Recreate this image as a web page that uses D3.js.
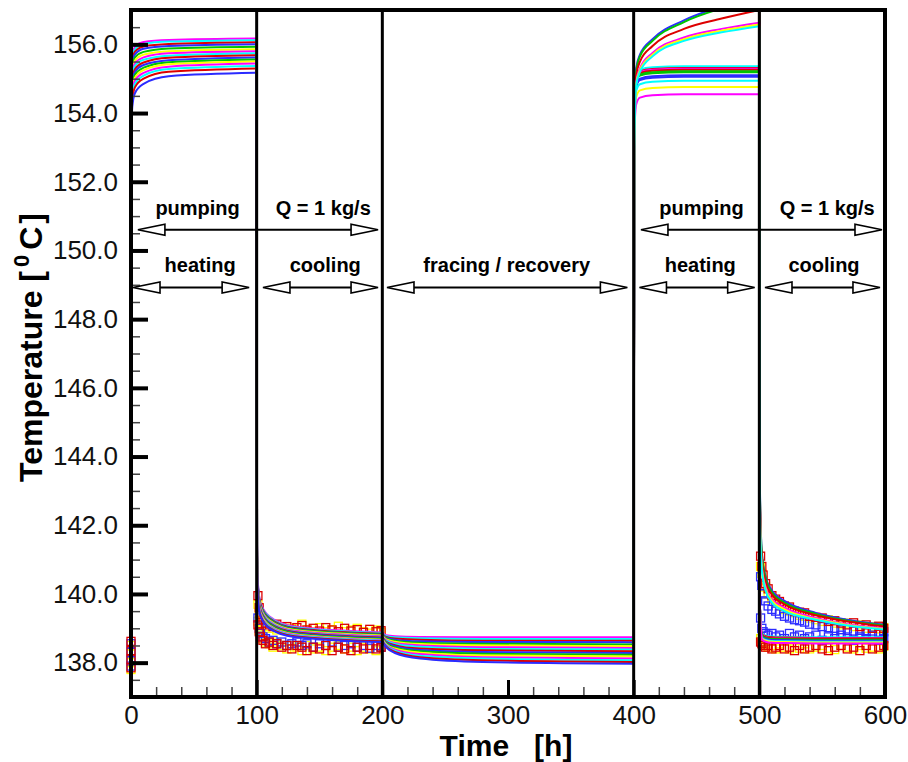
<!DOCTYPE html>
<html>
<head>
<meta charset="utf-8">
<script src="https://cdn.jsdelivr.net/npm/d3@7"></script>
<style>
body { margin: 0; background: #fff; }
svg { display: block; font-family: "Liberation Sans", Arial, sans-serif; }
</style>
</head>
<body>
<script>
// ---- data (temperatures in degC, times in hours) ----

// phase boundaries
var phaseEdges = [100, 200, 400, 500];

// heating 1 (0-100 h): 16 model curves, time offsets from 0
var heat1T = [0, 0.3, 1, 3, 10, 30, 100];
var heat1 = [
  [138.5, 154.67, 155.62, 155.92, 156.07, 156.13, 156.17],
  [138.5, 154.56, 155.54, 155.85, 156.01, 156.08, 156.12],
  [138.5, 154.44, 155.45, 155.78, 155.94, 156.01, 156.06],
  [138.5, 154.32, 155.36, 155.70, 155.87, 155.95, 156.00],
  [138.5, 154.19, 155.26, 155.61, 155.78, 155.88, 155.93],
  [138.5, 154.06, 155.16, 155.52, 155.70, 155.80, 155.86],
  [138.5, 153.94, 155.08, 155.44, 155.62, 155.74, 155.80],
  [138.5, 153.82, 154.99, 155.36, 155.55, 155.67, 155.74],
  [138.5, 153.70, 154.90, 155.27, 155.47, 155.61, 155.68],
  [138.5, 153.58, 154.82, 155.19, 155.40, 155.54, 155.62],
  [138.5, 153.46, 154.73, 155.11, 155.32, 155.48, 155.56],
  [138.5, 153.34, 154.64, 155.02, 155.25, 155.42, 155.50],
  [138.5, 153.22, 154.56, 154.94, 155.17, 155.35, 155.44],
  [138.5, 153.09, 154.45, 154.84, 155.09, 155.28, 155.37],
  [138.5, 152.96, 154.35, 154.74, 155.00, 155.20, 155.30],
  [138.5, 152.77, 154.17, 154.57, 154.85, 155.07, 155.17]
];

// cooling 1 (100-200 h)
var cool1T = [0, 0.3, 1, 3, 10, 30, 100];
var cool1 = [
  [156.17, 141.50, 140.30, 139.75, 139.35, 139.05, 138.88],
  [156.12, 141.45, 140.27, 139.72, 139.33, 139.03, 138.86],
  [156.06, 141.41, 140.23, 139.70, 139.30, 139.01, 138.84],
  [156.00, 141.36, 140.20, 139.67, 139.28, 138.99, 138.82],
  [155.93, 141.31, 140.17, 139.64, 139.26, 138.97, 138.81],
  [155.86, 141.27, 140.13, 139.62, 139.23, 138.95, 138.79],
  [155.80, 141.22, 140.10, 139.59, 139.21, 138.93, 138.77],
  [155.74, 141.17, 140.07, 139.56, 139.19, 138.91, 138.75],
  [155.68, 141.13, 140.03, 139.54, 139.16, 138.89, 138.73],
  [155.62, 141.08, 140.00, 139.51, 139.14, 138.87, 138.71],
  [155.56, 141.03, 139.97, 139.48, 139.12, 138.85, 138.69],
  [155.50, 140.99, 139.93, 139.46, 139.09, 138.83, 138.67],
  [155.44, 140.94, 139.90, 139.43, 139.07, 138.81, 138.65],
  [155.37, 140.89, 139.87, 139.40, 139.05, 138.79, 138.64],
  [155.30, 140.85, 139.83, 139.38, 139.02, 138.77, 138.62],
  [155.17, 140.80, 139.80, 139.35, 139.00, 138.75, 138.60]
];

// fracing / recovery (200-400 h)
var fracT = [0, 1, 3, 10, 30, 80, 200];
var frac = [
  [138.88, 138.84, 138.80, 138.77, 138.75, 138.74, 138.74],
  [138.86, 138.82, 138.78, 138.74, 138.71, 138.69, 138.69],
  [138.84, 138.80, 138.75, 138.70, 138.67, 138.64, 138.64],
  [138.82, 138.78, 138.73, 138.67, 138.62, 138.60, 138.59],
  [138.81, 138.76, 138.71, 138.64, 138.58, 138.55, 138.53],
  [138.79, 138.74, 138.68, 138.61, 138.54, 138.50, 138.48],
  [138.77, 138.72, 138.66, 138.57, 138.50, 138.45, 138.43],
  [138.75, 138.70, 138.64, 138.54, 138.46, 138.40, 138.38],
  [138.73, 138.69, 138.61, 138.51, 138.41, 138.36, 138.33],
  [138.71, 138.67, 138.59, 138.48, 138.37, 138.31, 138.28],
  [138.69, 138.65, 138.57, 138.44, 138.33, 138.26, 138.23],
  [138.67, 138.63, 138.54, 138.41, 138.29, 138.21, 138.18],
  [138.65, 138.61, 138.52, 138.38, 138.25, 138.16, 138.12],
  [138.64, 138.59, 138.50, 138.35, 138.20, 138.12, 138.07],
  [138.62, 138.57, 138.47, 138.31, 138.16, 138.07, 138.02],
  [138.60, 138.55, 138.45, 138.28, 138.12, 138.02, 137.97]
];

// heating 2 (400-500 h): a slowly rising group and a flat group
var heat2T = [0, 0.5, 2, 5, 15, 40, 70, 100];
var heat2Up = [
  [138.4, 153.5, 155.30, 155.70, 156.15, 156.70, 157.10, 157.40],
  [138.4, 153.4, 155.20, 155.65, 156.10, 156.65, 157.05, 157.35],
  [138.4, 153.2, 155.10, 155.50, 155.95, 156.45, 156.75, 157.00],
  [138.4, 153.0, 154.90, 155.30, 155.75, 156.20, 156.45, 156.63],
  [138.4, 153.0, 154.85, 155.25, 155.70, 156.15, 156.40, 156.58],
  [138.4, 152.9, 154.80, 155.20, 155.65, 156.10, 156.35, 156.53]
];
var heat2Low = [
  [138.4, 154.16, 155.06, 155.26, 155.33, 155.36, 155.36, 155.36],
  [138.4, 154.11, 155.01, 155.21, 155.28, 155.31, 155.31, 155.31],
  [138.4, 154.09, 154.99, 155.19, 155.26, 155.29, 155.29, 155.29],
  [138.4, 154.06, 154.96, 155.16, 155.23, 155.26, 155.26, 155.26],
  [138.4, 154.02, 154.92, 155.12, 155.19, 155.22, 155.22, 155.22],
  [138.4, 153.99, 154.89, 155.09, 155.16, 155.19, 155.19, 155.19],
  [138.4, 153.90, 154.80, 155.00, 155.07, 155.10, 155.10, 155.10],
  [138.4, 153.86, 154.76, 154.96, 155.03, 155.06, 155.06, 155.06],
  [138.4, 153.74, 154.64, 154.84, 154.91, 154.94, 154.94, 154.94],
  [138.4, 153.56, 154.46, 154.66, 154.73, 154.76, 154.76, 154.76],
  [138.4, 153.35, 154.25, 154.45, 154.52, 154.55, 154.55, 154.55]
];

// cooling 2 (500-600 h)
var cool2T = [0, 0.5, 2, 5, 10, 20, 45, 70, 100];
var cool2Up = [
  [157.40, 143.0, 141.20, 140.50, 140.10, 139.80, 139.45, 139.25, 139.10],
  [157.35, 142.9, 141.15, 140.45, 140.05, 139.75, 139.42, 139.22, 139.08],
  [157.00, 142.8, 141.00, 140.35, 139.98, 139.70, 139.38, 139.20, 139.05],
  [156.63, 142.5, 140.80, 140.20, 139.85, 139.60, 139.30, 139.12, 139.00],
  [156.58, 142.4, 140.75, 140.15, 139.80, 139.55, 139.27, 139.10, 138.98],
  [156.53, 142.3, 140.70, 140.10, 139.75, 139.50, 139.25, 139.08, 138.96]
];
var cool2Low = [
  [155.36, 139.6, 138.86, 138.79, 138.76, 138.75, 138.74, 138.74, 138.74],
  [155.31, 139.6, 138.84, 138.77, 138.74, 138.73, 138.72, 138.72, 138.72],
  [155.29, 139.6, 138.82, 138.75, 138.72, 138.71, 138.70, 138.70, 138.70],
  [155.26, 139.6, 138.81, 138.74, 138.71, 138.70, 138.69, 138.69, 138.69],
  [155.22, 139.6, 138.79, 138.72, 138.69, 138.68, 138.67, 138.67, 138.67],
  [155.19, 139.6, 138.78, 138.71, 138.68, 138.67, 138.66, 138.66, 138.66],
  [155.10, 139.6, 138.76, 138.69, 138.66, 138.65, 138.64, 138.64, 138.64],
  [155.06, 139.6, 138.75, 138.68, 138.65, 138.64, 138.63, 138.63, 138.63],
  [154.94, 139.6, 138.73, 138.66, 138.63, 138.62, 138.61, 138.61, 138.61],
  [154.76, 139.6, 138.71, 138.64, 138.61, 138.60, 138.59, 138.59, 138.59],
  [154.55, 139.6, 138.68, 138.61, 138.58, 138.57, 138.56, 138.56, 138.56]
];

// measured values (squares), time offsets from phase start
var markDT = [1, 2, 3, 5, 7, 10, 13, 16, 20, 24, 28, 32, 36, 40, 45, 50, 55, 60, 65, 70, 75, 80, 85, 90, 95, 99];

var redHi1  = [139.95, 139.6, 139.4, 139.25, 139.15, 139.1, 139.05, 139.12, 139.0, 139.05, 138.95, 139.02, 139.08, 138.95, 139.0, 138.92, 139.02, 138.95, 138.9, 139.0, 138.92, 138.96, 138.88, 138.97, 138.9, 138.93];
var yelHi1  = [139.7, 139.45, 139.3, 139.15, 139.05, 139.0, 139.1, 138.95, 139.05, 138.95, 139.0, 138.9, 139.12, 138.95, 138.9, 139.02, 138.9, 138.96, 139.06, 138.9, 138.95, 139.0, 138.9, 138.86, 138.95, 138.88];
var blueLo1 = [139.3, 139.0, 138.85, 138.75, 138.7, 138.6, 138.65, 138.55, 138.6, 138.5, 138.55, 138.6, 138.5, 138.55, 138.45, 138.55, 138.5, 138.6, 138.45, 138.5, 138.55, 138.45, 138.5, 138.42, 138.5, 138.45];
var redLo1  = [139.1, 138.9, 138.75, 138.65, 138.55, 138.6, 138.5, 138.55, 138.45, 138.5, 138.4, 138.5, 138.45, 138.35, 138.45, 138.4, 138.5, 138.35, 138.45, 138.4, 138.35, 138.45, 138.4, 138.5, 138.4, 138.45];
var yelLo1  = [139.2, 138.95, 138.8, 138.7, 138.6, 138.55, 138.45, 138.6, 138.5, 138.4, 138.5, 138.45, 138.35, 138.5, 138.4, 138.45, 138.35, 138.45, 138.5, 138.4, 138.45, 138.35, 138.45, 138.4, 138.35, 138.45];

var redHi2  = [141.1, 140.8, 140.55, 140.3, 140.15, 139.95, 139.85, 139.78, 139.65, 139.62, 139.5, 139.47, 139.45, 139.35, 139.32, 139.3, 139.2, 139.22, 139.15, 139.1, 139.16, 139.05, 139.1, 139.0, 139.06, 139.0];
var yelHi2  = [140.8, 140.6, 140.4, 140.2, 140.0, 139.85, 139.75, 139.65, 139.55, 139.5, 139.45, 139.38, 139.35, 139.3, 139.25, 139.2, 139.25, 139.15, 139.1, 139.15, 139.05, 139.1, 139.0, 139.05, 138.98, 139.02];
var blueHi2 = [140.5, 140.25, 140.0, 139.8, 139.65, 139.55, 139.5, 139.42, 139.35, 139.3, 139.25, 139.22, 139.18, 139.12, 139.1, 139.05, 139.02, 139.0, 138.96, 138.98, 138.92, 138.94, 138.9, 138.92, 138.87, 138.9];
var blueLo2 = [139.3, 139.0, 138.9, 138.85, 138.8, 138.85, 138.75, 138.8, 138.7, 138.85, 138.75, 138.8, 138.7, 138.75, 138.8, 138.65, 138.75, 138.7, 138.8, 138.7, 138.65, 138.75, 138.7, 138.8, 138.65, 138.7];
var redLo2  = [138.6, 138.55, 138.5, 138.45, 138.5, 138.4, 138.45, 138.5, 138.4, 138.45, 138.35, 138.5, 138.4, 138.45, 138.5, 138.4, 138.35, 138.45, 138.5, 138.4, 138.45, 138.35, 138.5, 138.4, 138.45, 138.5];
var yelLo2  = [138.7, 138.6, 138.5, 138.55, 138.45, 138.5, 138.4, 138.55, 138.45, 138.4, 138.5, 138.42, 138.55, 138.4, 138.45, 138.5, 138.42, 138.38, 138.5, 138.45, 138.4, 138.5, 138.42, 138.45, 138.4, 138.48];

// initial measurements at t = 0
var red0  = [138.62, 138.35, 138.10, 137.85];
var blue0 = [138.55, 138.30, 138.05, 137.90];
var yel0  = [138.50, 138.25, 138.00, 137.80];

// axis ticks
var yTicks = [138, 140, 142, 144, 146, 148, 150, 152, 154, 156];
var xTicks = [0, 100, 200, 300, 400, 500, 600];

// annotations
var topRowT = 150.6, phaseRowT = 148.92;
var topArrows = [[5.5, 196.6], [405.8, 597.6]];
var topLabels = ["pumping", "Q = 1 kg/s", "pumping", "Q = 1 kg/s"];
var topLabelT = [53, 153, 454, 554];
var phaseArrows = [[1.6, 94], [105, 196.6], [203.7, 395], [404.6, 496.3], [504.5, 596]];
var phaseLabels = ["heating", "cooling", "fracing / recovery", "heating", "cooling"];
var phaseLabelT = [55, 154.6, 299, 453, 551.5];

// ---- styling ----
var font = "'Liberation Sans', Arial, sans-serif";
var palette = { magenta: "#ff00ff", cyan: "#00ffff", red: "#dd0000", blue: "#2b2bff", green: "#00c400", yellow: "#ffff00" };
var cycle = ["magenta", "cyan", "red", "blue", "green", "yellow"];
var upCols = ["blue", "green", "red", "magenta", "yellow", "cyan"];
var lowCols = ["cyan", "red", "magenta", "red", "green", "green", "blue", "blue", "cyan", "yellow", "magenta"];

var width = 908, height = 762;
var svg = d3.select("body").append("svg")
    .attr("width", width)
    .attr("height", height);

var x = d3.scaleLinear().domain([0, 600]).range([131, 885]);
var y = d3.scaleLinear().domain([137, 157]).range([697, 10]);

svg.append("clipPath").attr("id", "plotclip")
    .append("rect")
    .attr("x", x(0)).attr("y", y(157))
    .attr("width", x(600) - x(0)).attr("height", y(137) - y(157));

var line = d3.line()
    .x(d => x(d[0]))
    .y(d => y(d[1]))
    .curve(d3.curveMonotoneX);

// markers go under the model curves
var marks = svg.append("g");
function drawMarks(times, vals, col) {
    marks.append("g").selectAll("rect")
        .data(vals)
        .enter().append("rect")
        .attr("x", (d, j) => x(times[j]) - 4)
        .attr("y", d => y(d) - 4)
        .attr("width", 8).attr("height", 8)
        .attr("fill", "none")
        .attr("stroke", palette[col])
        .attr("stroke-width", 1.3);
}
var t1 = markDT.map(d => 100 + d), t2 = markDT.map(d => 500 + d);
drawMarks([0, 0, 0, 0], yel0, "yellow");
drawMarks([0, 0, 0, 0], blue0, "blue");
drawMarks([0, 0, 0, 0], red0, "red");
drawMarks(t1, yelHi1, "yellow");
drawMarks(t1, yelLo1, "yellow");
drawMarks(t1, blueLo1, "blue");
drawMarks(t1, redLo1, "red");
drawMarks(t1, redHi1, "red");
drawMarks(t2, yelHi2, "yellow");
drawMarks(t2, yelLo2, "yellow");
drawMarks(t2, blueHi2, "blue");
drawMarks(t2, blueLo2, "blue");
drawMarks(t2, redLo2, "red");
drawMarks(t2, redHi2, "red");

// model curves
var curves = svg.append("g").attr("clip-path", "url(#plotclip)");
function drawGroup(t0, times, data, cols) {
    curves.append("g").selectAll("path")
        .data(data)
        .enter().append("path")
        .attr("fill", "none")
        .attr("stroke", (d, i) => palette[cols ? cols[i] : cycle[i % cycle.length]])
        .attr("stroke-width", 2)
        .attr("d", d => line(d.map((v, j) => [t0 + times[j], v])));
}
drawGroup(0, heat1T, heat1);
drawGroup(100, cool1T, cool1);
drawGroup(200, fracT, frac);
drawGroup(400, heat2T, heat2Low, lowCols);
drawGroup(400, heat2T, heat2Up, upCols);
drawGroup(500, cool2T, cool2Low, lowCols);
drawGroup(500, cool2T, cool2Up, upCols);

// phase divider lines
svg.append("g").selectAll("line")
    .data(phaseEdges)
    .enter().append("line")
    .attr("x1", d => x(d)).attr("x2", d => x(d))
    .attr("y1", y(157)).attr("y2", y(137))
    .attr("stroke", "black")
    .attr("stroke-width", 3);

// axes, ticks point inward
var yMinor = svg.append("g").attr("transform", `translate(${x(0)},0)`)
    .call(d3.axisLeft(y).tickValues(d3.range(137.5, 157, 0.5)).tickSize(-9).tickFormat(""));
yMinor.selectAll(".tick line").attr("stroke", "#444").attr("stroke-width", 1.5);

var yMajor = svg.append("g").attr("transform", `translate(${x(0)},0)`)
    .call(d3.axisLeft(y).tickValues(yTicks).tickSize(-17).tickPadding(13).tickFormat(d3.format(".1f")));
yMajor.attr("font-family", font).attr("font-size", 26);
yMajor.selectAll(".tick line").attr("stroke", "black").attr("stroke-width", 4);
yMajor.selectAll("text").attr("fill", "#111");

var xMinor = svg.append("g").attr("transform", `translate(0,${y(137)})`)
    .call(d3.axisBottom(x).tickValues(d3.range(20, 600, 20)).tickSize(-10).tickFormat(""));
xMinor.selectAll(".tick line").attr("stroke", "#444").attr("stroke-width", 1.5);

var xMajor = svg.append("g").attr("transform", `translate(0,${y(137)})`)
    .call(d3.axisBottom(x).tickValues(xTicks).tickSize(-17).tickPadding(9));
xMajor.attr("font-family", font).attr("font-size", 26);
xMajor.selectAll(".tick line").attr("stroke", "black").attr("stroke-width", 3);
xMajor.selectAll("text").attr("fill", "#111");

svg.selectAll(".domain").remove();

// frame
svg.append("rect")
    .attr("x", x(0)).attr("y", y(157))
    .attr("width", x(600) - x(0)).attr("height", y(137) - y(157))
    .attr("fill", "none")
    .attr("stroke", "black")
    .attr("stroke-width", 4);

// double-headed arrows with open heads
var ann = svg.append("g");
function arrow(t, v) {
    var x1 = x(t[0]), x2 = x(t[1]), yy = y(v), hl = 27, hw = 5.5;
    ann.append("line")
        .attr("x1", x1 + hl).attr("x2", x2 - hl)
        .attr("y1", yy).attr("y2", yy)
        .attr("stroke", "black").attr("stroke-width", 2);
    ann.append("path")
        .attr("d", `M${x1},${yy}L${x1 + hl},${yy - hw}L${x1 + hl},${yy + hw}Z`)
        .attr("fill", "white").attr("stroke", "black").attr("stroke-width", 1.6);
    ann.append("path")
        .attr("d", `M${x2},${yy}L${x2 - hl},${yy - hw}L${x2 - hl},${yy + hw}Z`)
        .attr("fill", "white").attr("stroke", "black").attr("stroke-width", 1.6);
}
topArrows.forEach(t => arrow(t, topRowT));
phaseArrows.forEach(t => arrow(t, phaseRowT));

ann.selectAll(".toplab")
    .data(topLabels)
    .enter().append("text")
    .attr("x", (d, i) => x(topLabelT[i]))
    .attr("y", y(topRowT) - 15)
    .attr("text-anchor", "middle")
    .attr("font-weight", "bold")
    .style("font-size", "20px")
    .text(d => d);

ann.selectAll(".phaselab")
    .data(phaseLabels)
    .enter().append("text")
    .attr("x", (d, i) => x(phaseLabelT[i]))
    .attr("y", y(phaseRowT) - 16)
    .attr("text-anchor", "middle")
    .attr("font-weight", "bold")
    .style("font-size", "20px")
    .text(d => d);

// axis titles
svg.append("text")
    .attr("x", 506).attr("y", 756)
    .attr("text-anchor", "middle")
    .attr("font-weight", "bold")
    .style("font-size", "30px")
    .style("white-space", "pre")
    .text("Time   [h]");

var yt = svg.append("text")
    .attr("transform", "translate(42,482) rotate(-90)")
    .attr("text-anchor", "start")
    .attr("font-weight", "bold")
    .style("font-size", "32px");
yt.append("tspan").text("Temperature [");
yt.append("tspan").attr("dx", 4).attr("dy", -13).style("font-size", "22px").text("0");
yt.append("tspan").attr("dx", 5).attr("dy", 13).text("C");
yt.append("tspan").attr("dx", 3).text("]");
</script>
</body>
</html>
